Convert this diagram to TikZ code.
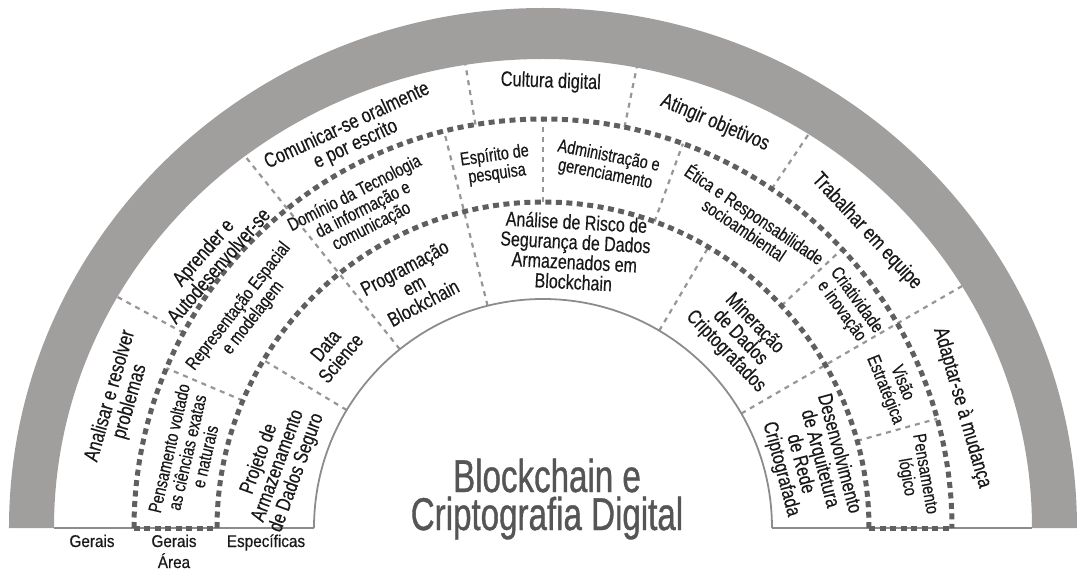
\documentclass[tikz,border=0pt]{standalone}
\usepackage{fontspec}
\setmainfont{Liberation Sans}[FakeStretch=0.78,FakeBold=0.35]
\newfontfamily\titlefont{Liberation Sans}[FakeStretch=0.72,FakeBold=0.8]
\newfontfamily\basefont{Liberation Sans}[FakeStretch=0.9,FakeBold=0.5]
\definecolor{band}{RGB}{161,158,158}
\definecolor{dotc}{RGB}{95,95,95}
\definecolor{sepc}{RGB}{150,150,150}
\definecolor{holec}{RGB}{140,140,140}
\definecolor{titlec}{RGB}{85,85,85}
\definecolor{txtc}{RGB}{25,25,25}
\begin{document}
\begin{tikzpicture}[x=1pt,y=1pt,
  sep/.style={draw=sepc, line width=2.2pt, dash pattern=on 5pt off 5pt},
  ring/.style={draw=dotc, line width=5pt, dash pattern=on 6pt off 4.5pt},
  lblA/.style={align=center, inner sep=0pt, text=txtc, font=\fontsize{21}{20.5}\selectfont},
  lblB/.style={align=center, inner sep=0pt, text=txtc, font=\fontsize{18.5}{18.5}\selectfont},
  lblC/.style={align=center, inner sep=0pt, text=txtc, font=\fontsize{20.5}{20}\selectfont},
  botlbl/.style={align=center, inner sep=0pt, text=txtc, font=\basefont\fontsize{17}{21}\selectfont},
]
\useasboundingbox (-543,-46) rectangle (534,528);
\coordinate (O) at (0,0);
% separators
\foreach \a/\ri/\ro in {151.5/409/495, 128.7/229/495, 99.5/409/495, 78.5/409/495, 56/409/495, 30/229/495,
  157/326/409, 104/229/409, 90/326/409, 70/326/409, 43/326/409, 15.5/326/409,
  149/229/326, 59.5/229/326}
  \draw[sep] (\a:\ri pt) -- (\a:\ro pt);
% hole and base line
\draw[holec, line width=1.8pt] (-229pt,0) arc[start angle=180, end angle=0, radius=229pt];
\draw[holec, line width=1.8pt] (-489pt,0) -- (-229pt,0) (229pt,0) -- (489pt,0);
% dotted rings
\draw[ring] (-409pt,0) arc[start angle=180, end angle=0, radius=409pt];
\draw[ring] (-326pt,0) arc[start angle=180, end angle=0, radius=326pt];
\draw[ring] (-409pt,0) -- (-326pt,0) (326pt,0) -- (409pt,0);
% gray band
\fill[band] (-534pt,0) arc[start angle=180, end angle=0, x radius=534pt, y radius=520pt]
  -- (489pt,0) arc[start angle=0, end angle=180, x radius=489pt, y radius=469pt] -- cycle;
% outer ring labels
\node[lblA, rotate=74] (analisar) at (163:442pt) {Analisar e resolver\\problemas};
\node[lblA, rotate=49] (aprender) at (141:428pt) {Aprender e\\Autodesenvolver-se};
\node[lblA, rotate=25] (comunicar) at (116:437pt) {Comunicar-se oralmente\\e por escrito};
\node[lblA, rotate=-2] (cultura) at (89:446pt) {Cultura digital};
\node[lblA, rotate=-23] (atingir) at (67:440pt) {Atingir objetivos};
\node[lblA, rotate=-47] (trabalhar) at (42.5:439pt) {Trabalhar em equipe};
\node[lblA, rotate=-74] (adaptar) at (16:436pt) {Adaptar-se à mudança};
% middle ring labels
\node[lblB, rotate=77] (pensvolt) at (168:364pt) {Pensamento voltado\\as ciências exatas\\e naturais};
\node[lblB, rotate=52] (repres) at (144:367pt) {Representação Espacial\\e modelagem};
\node[lblB, rotate=27] (dominio) at (119.5:365pt) {Domínio da Tecnologia\\da informação e\\comunicação};
\node[lblB, rotate=8] (espirito) at (97.4:366pt) {Espírito de\\pesquisa};
\node[lblB, rotate=-11] (admin) at (80:368pt) {Administração e\\gerenciamento};
\node[lblB, rotate=-34] (etica) at (56:370pt) {Ética e Responsabilidade\\socioambiental};
\node[lblB, rotate=-54] (criat) at (36:378pt) {Criatividade\\e inovação};
\node[lblB, rotate=-68] (visao) at (22:378pt) {Visão\\Estratégica};
\node[lblB, rotate=-80] (penslog) at (8:376pt) {Pensamento\\lógico};
% inner ring labels
\node[lblC, rotate=70] (projeto) at (166.8:272pt) {Projeto de\\Armazenamento\\de Dados Seguro};
\node[lblC, rotate=50] (datasci) at (140:274pt) {Data\\Science};
\node[lblC, rotate=28] (program) at (118:275pt) {Programação\\em\\Blockchain};
\node[lblC, rotate=-3] (analise) at (83.4:278pt) {Análise de Risco de\\Segurança de Dados\\Armazenados em\\Blockchain};
\node[lblC, rotate=-46] (mineracao) at (44:274pt) {Mineração\\de Dados\\Criptografados};
\node[lblC, rotate=-75] (desenv) at (14:275pt) {Desenvolvimento\\de Arquitetura\\de Rede\\Criptografada};
% bottom labels
\node[botlbl, anchor=base] (gerais) at (-451,-19) {Gerais};
\node[botlbl, anchor=base] (gerarea) at (-369,-40) {Gerais\\Área};
\node[botlbl, anchor=base] (espec) at (-277,-19) {Específicas};
% title
\node[anchor=base, align=center, inner sep=0pt, text=titlec, font=\titlefont\fontsize{46}{38}\selectfont] (title) at (4,-2) {Blockchain e\\Criptografia Digital};
\end{tikzpicture}
\end{document}
